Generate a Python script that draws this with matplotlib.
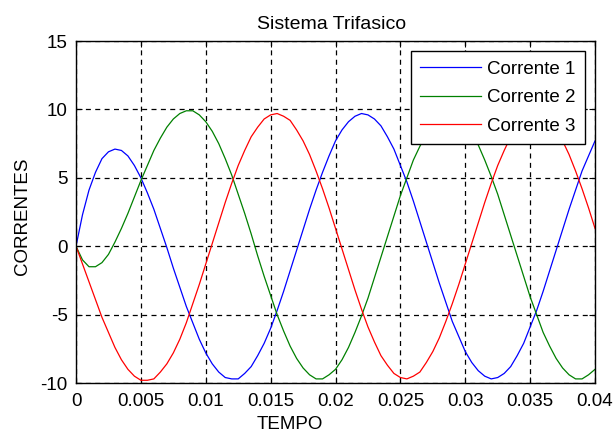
import numpy as np
import matplotlib.pyplot as plt

# tempo (s), passo de 0.0005
tempo = np.arange(81) * 0.0005

corrente1 = [0.0, 2.3, 4.1, 5.4, 6.4, 6.9, 7.1, 7.0, 6.6,
             5.9, 5.0, 3.9, 2.7, 1.3, -0.1, -1.6, -3.0, -4.4,
             -5.6, -6.8, -7.8, -8.6, -9.2, -9.6, -9.7, -9.7, -9.3,
             -8.8, -8.0, -7.1, -6.0, -4.7, -3.3, -1.8, -0.3, 1.2,
             2.7, 4.1, 5.4, 6.6, 7.7, 8.5, 9.1, 9.5, 9.7,
             9.6, 9.3, 8.8, 8.0, 7.1, 5.9, 4.7, 3.3, 1.8,
             0.3, -1.2, -2.7, -4.1, -5.5, -6.6, -7.7, -8.5, -9.1,
             -9.5, -9.7, -9.6, -9.3, -8.8, -8.0, -7.1, -5.9, -4.7,
             -3.3, -1.8, -0.3, 1.2, 2.7, 4.1, 5.5, 6.6, 7.7]

corrente2 = [0.0, -1.0, -1.5, -1.5, -1.2, -0.6, 0.3, 1.3, 2.4,
             3.6, 4.8, 5.9, 7.0, 7.9, 8.7, 9.3, 9.7, 9.9,
             9.9, 9.6, 9.1, 8.4, 7.5, 6.4, 5.2, 3.8, 2.4,
             0.9, -0.7, -2.2, -3.6, -5.0, -6.2, -7.3, -8.2, -8.9,
             -9.4, -9.7, -9.7, -9.4, -9.0, -8.3, -7.4, -6.3, -5.1,
             -3.8, -2.3, -0.8, 0.7, 2.2, 3.7, 5.0, 6.3, 7.3,
             8.2, 8.9, 9.4, 9.7, 9.7, 9.4, 9.0, 8.3, 7.4,
             6.3, 5.1, 3.8, 2.3, 0.8, -0.7, -2.2, -3.7, -5.0,
             -6.3, -7.3, -8.2, -8.9, -9.4, -9.7, -9.7, -9.4, -9.0]

corrente3 = [0.0, -1.3, -2.6, -3.9, -5.2, -6.3, -7.4, -8.3, -9.0,
             -9.5, -9.8, -9.8, -9.7, -9.2, -8.6, -7.8, -6.8, -5.6,
             -4.2, -2.8, -1.3, 0.2, 1.7, 3.2, 4.6, 5.9, 7.0,
             8.0, 8.7, 9.3, 9.6, 9.7, 9.5, 9.2, 8.5, 7.7,
             6.7, 5.5, 4.2, 2.8, 1.3, -0.2, -1.7, -3.2, -4.6,
             -5.9, -7.0, -8.0, -8.7, -9.3, -9.6, -9.7, -9.5, -9.2,
             -8.5, -7.7, -6.7, -5.5, -4.2, -2.8, -1.3, 0.2, 1.7,
             3.2, 4.6, 5.9, 7.0, 8.0, 8.7, 9.3, 9.6, 9.7,
             9.5, 9.2, 8.5, 7.7, 6.7, 5.5, 4.2, 2.8, 1.3]

xticks = [0, 0.005, 0.01, 0.015, 0.02, 0.025, 0.03, 0.035, 0.04]
xlabels = ['0', '0.005', '0.01', '0.015', '0.02', '0.025', '0.03', '0.035', '0.04']
yticks = [-10, -5, 0, 5, 10, 15]

plt.rcParams['font.family'] = ['Liberation Sans', 'DejaVu Sans']
plt.rcParams['axes.unicode_minus'] = False

fig = plt.figure(figsize=(6.14, 4.34), dpi=100)
ax = fig.add_axes([0.1238, 0.1175, 0.8453, 0.788])

ax.plot(tempo, corrente1, c='#0000ff', lw=0.9, label='Corrente 1')
ax.plot(tempo, corrente2, c='#008000', lw=0.9, label='Corrente 2')
ax.plot(tempo, corrente3, c='#ff0000', lw=0.9, label='Corrente 3')

ax.set_xlim(0, 0.04)
ax.set_ylim(-10, 15)
ax.set_xticks(xticks)
ax.set_xticklabels(xlabels)
ax.set_yticks(yticks)
ax.tick_params(direction='in', length=4, labelsize=13.5, top=True, right=True)
ax.tick_params(axis='x', pad=7.5)
ax.tick_params(axis='y', pad=6)
ax.grid(True, color='black', linestyle=(0, (4, 3.5)), linewidth=0.9)
for s in ax.spines.values():
    s.set_linewidth(1.0)

ax.set_title('Sistema Trifasico', fontsize=14, pad=9, x=0.492)
ax.set_xlabel('TEMPO', fontsize=13.5, labelpad=4, x=0.412)
ax.set_ylabel('CORRENTES', fontsize=13.5, labelpad=7, y=0.488)

leg = ax.legend(loc='upper right', fontsize=13.5, fancybox=False, framealpha=1,
                edgecolor='black', handlelength=3.25, handletextpad=0.32,
                borderaxespad=0.55, labelspacing=0.6, borderpad=0.5)
leg.get_frame().set_linewidth(1.0)

fig.savefig('out.png')
